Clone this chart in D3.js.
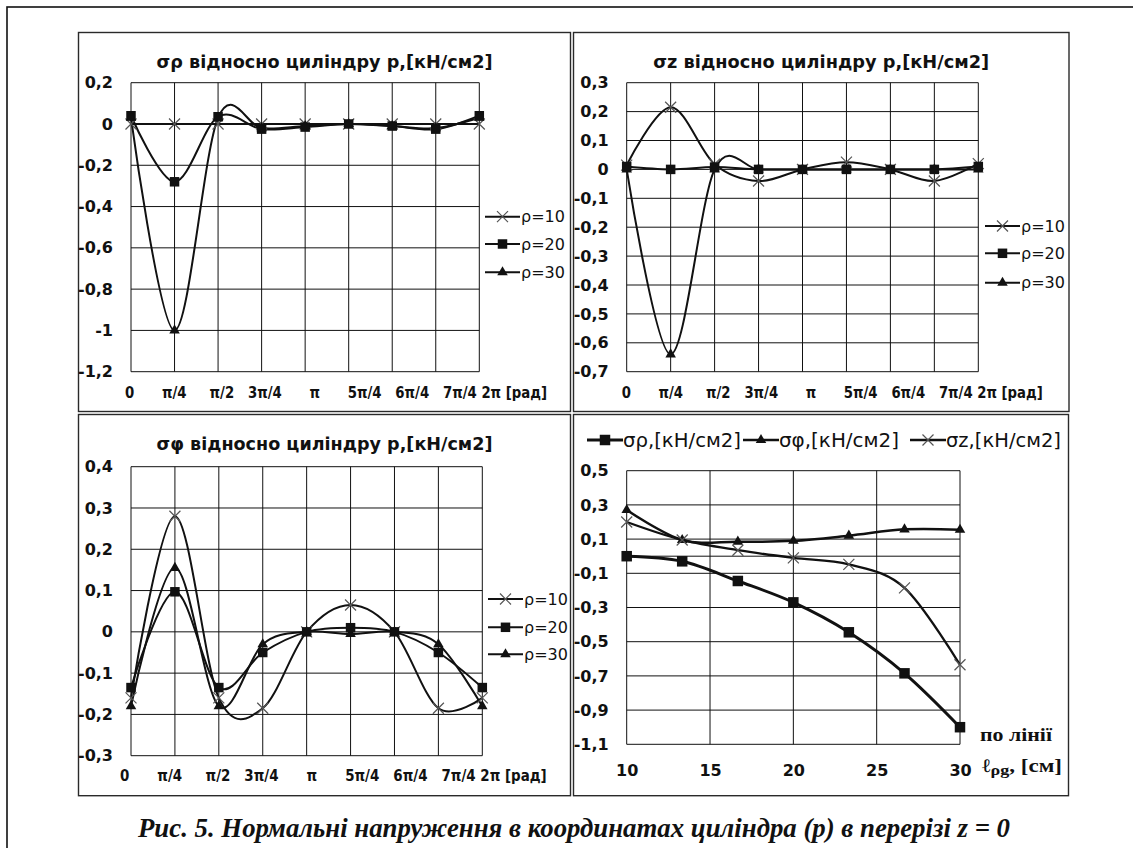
<!DOCTYPE html>
<html lang="uk">
<head>
<meta charset="UTF-8">
<title>Нормальні напруження в координатах циліндра</title>
<script src="https://d3js.org/d3.v7.min.js"></script>
<style>
  * { margin: 0; padding: 0; box-sizing: border-box; }
  body { background: #fff; width: 1133px; height: 848px; overflow: hidden; }
  svg { display: block; }
  .frame { fill: none; stroke: #111; stroke-width: 1.6; }
  .panel { fill: #fff; stroke: #2a2a2a; stroke-width: 1.4; }
  .grid { stroke: #111; stroke-width: 1; }
  .title { font-family: 'DejaVu Sans', sans-serif; font-weight: bold; font-size: 17.5px; fill: #111; }
  .axis text, .tick-row { font-family: 'DejaVu Sans', sans-serif; font-weight: bold; font-size: 16px; fill: #111; }
  .tick-row { white-space: pre; }
  .legend text { font-family: 'DejaVu Sans', sans-serif; font-size: 16px; fill: #111; }
  .legend4 text { font-family: 'DejaVu Sans', sans-serif; font-size: 19px; fill: #111; }
  .serif-note { font-family: 'Liberation Serif', 'DejaVu Serif', serif; font-weight: bold; font-size: 19px; fill: #111; }
  .caption { font-family: 'Liberation Serif', 'DejaVu Serif', serif; font-weight: bold; font-style: italic; font-size: 27px; fill: #111; }
  .series { fill: none; stroke: #111; }
  .mk-x { fill: none; stroke: #555; stroke-width: 1.2; }
  .mk-fill { fill: #111; stroke: none; }
</style>
</head>
<body>
<svg id="fig" width="1133" height="848"></svg>
<script>
// categories along the cylinder angle
const angleLabels = ["0", "π/4", "π/2", "3π/4", "π", "5π/4", "6π/4", "7π/4", "2π"];
const angleGaps = [6, 5, 3, 6, 6, 3, 3, 1];   // spaces typed between labels in the original
const radUnit = "[рад]";
const seriesNames = ["ρ=10", "ρ=20", "ρ=30"];

// σρ
const rhoTitle = "σρ відносно циліндру р,[кН/см2]";
const rhoTicks = [0.2, 0, -0.2, -0.4, -0.6, -0.8, -1, -1.2];
const rho10 = [0, 0, 0, 0, 0, 0, 0, 0, 0];
const rho20 = [0.04, -0.28, 0.035, -0.025, -0.015, 0, -0.01, -0.025, 0.04];
const rho30 = [0.03, -1.0, 0.03, -0.02, -0.01, 0, -0.01, -0.02, 0.03];

// σz
const zTitle = "σz відносно циліндру р,[кН/см2]";
const zTicks = [0.3, 0.2, 0.1, 0, -0.1, -0.2, -0.3, -0.4, -0.5, -0.6, -0.7];
const z10 = [0.015, 0.215, 0.018, -0.04, 0, 0.025, 0, -0.04, 0.02];
const z20 = [0.01, 0, 0.008, 0, 0, 0, 0, 0, 0.01];
const z30 = [0, -0.64, 0, 0, 0, 0, 0, 0, 0];

// σφ
const phiTitle = "σφ відносно циліндру р,[кН/см2]";
const phiTicks = [0.4, 0.3, 0.2, 0.1, 0, -0.1, -0.2, -0.3];
const phi10 = [-0.16, 0.28, -0.16, -0.185, 0, 0.065, 0, -0.185, -0.16];
const phi20 = [-0.135, 0.097, -0.135, -0.05, 0, 0.01, 0, -0.05, -0.135];
const phi30 = [-0.18, 0.155, -0.18, -0.03, 0, -0.005, 0, -0.03, -0.18];

// along line l_pg
const lineX = [10, 13.33, 16.67, 20, 23.33, 26.67, 30];
const lineXTicks = [10, 15, 20, 25, 30];
const lineYTicks = [0.5, 0.3, 0.1, -0.1, -0.3, -0.5, -0.7, -0.9, -1.1];
const lineNames = ["σρ,[кН/см2]", "σφ,[кН/см2]", "σz,[кН/см2]"];
const lineRho = [0.0, -0.03, -0.145, -0.27, -0.445, -0.685, -1.0];
const linePhi = [0.27, 0.095, 0.085, 0.09, 0.12, 0.157, 0.155];
const lineZ = [0.2, 0.095, 0.035, -0.01, -0.048, -0.185, -0.635];

const captionText = "Рис. 5. Нормальні напруження в координатах циліндра (р) в перерізі z = 0";

const fmt = v => String(+v.toFixed(2)).replace(".", ",");
const smooth = d3.curveCatmullRom.alpha(0);

const svg = d3.select("#fig");

svg.append("rect").attr("class", "frame")
    .attr("x", 7).attr("y", 7).attr("width", 1150).attr("height", 870);

function markerPath(kind, s) {
    if (kind === "x") {
        const r = s / 2;
        return `M${-r},${-r}L${r},${r}M${-r},${r}L${r},${-r}`;
    }
    if (kind === "square") return d3.symbol(d3.symbolSquare, s * s)();
    return d3.symbol(d3.symbolTriangle, s * s * 0.433)();
}

function drawMarkers(g, kind, pts, s) {
    g.append("g").selectAll("path").data(pts).join("path")
        .attr("class", kind === "x" ? "mk-x" : "mk-fill")
        .attr("transform", d => `translate(${d[0]},${d[1]})`)
        .attr("d", markerPath(kind, s));
}

const kinds = ["x", "square", "triangle"];
const sizes = { x: 11, square: 9.5, triangle: 10.5 };

function anglePanel(cfg) {
    const f = cfg.frame, p = cfg.plot;
    const g = svg.append("g");
    g.append("rect").attr("class", "panel")
        .attr("x", f[0]).attr("y", f[1]).attr("width", f[2] - f[0]).attr("height", f[3] - f[1]);

    g.append("text").attr("class", "title")
        .attr("x", (f[0] + f[2]) / 2).attr("y", f[1] + 35)
        .attr("text-anchor", "middle")
        .attr("textLength", 336).attr("lengthAdjust", "spacingAndGlyphs")
        .text(cfg.title);

    const x = d3.scalePoint().domain(angleLabels).range([p[0], p[2]]);
    const y = d3.scaleLinear().domain(cfg.yDomain).range([p[3], p[1]]);

    g.append("g").selectAll("line").data(cfg.yTicks).join("line").attr("class", "grid")
        .attr("x1", p[0]).attr("x2", p[2])
        .attr("y1", d => y(d)).attr("y2", d => y(d));
    g.append("g").selectAll("line").data(angleLabels).join("line").attr("class", "grid")
        .attr("x1", d => x(d)).attr("x2", d => x(d))
        .attr("y1", p[1]).attr("y2", p[3]);

    g.append("g").attr("class", "axis")
        .attr("transform", `translate(${p[0]},0)`)
        .call(d3.axisLeft(y).tickValues(cfg.yTicks).tickSize(0).tickPadding(18).tickFormat(fmt))
        .call(a => a.select(".domain").remove());

    const row = angleLabels.map((l, i) =>
        i < angleLabels.length - 1 ? l + " ".repeat(angleGaps[i]) : l + " " + radUnit).join("");
    g.append("text").attr("class", "tick-row")
        .attr("x", cfg.labelX).attr("y", cfg.labelY)
        .attr("textLength", cfg.labelW).attr("lengthAdjust", "spacingAndGlyphs")
        .text(row);

    const line = d3.line().x((d, i) => x(angleLabels[i])).y(d => y(d)).curve(smooth);
    cfg.series.forEach(vals => {
        g.append("path").attr("class", "series").attr("stroke-width", 2).attr("d", line(vals));
    });
    cfg.series.forEach((vals, k) => {
        drawMarkers(g, kinds[k], vals.map((v, i) => [x(angleLabels[i]), y(v)]), sizes[kinds[k]]);
    });

    const lg = g.append("g").attr("class", "legend");
    seriesNames.forEach((name, k) => {
        const ly = cfg.legendY[k];
        lg.append("line").attr("class", "series").attr("stroke-width", 2)
            .attr("x1", cfg.legendX).attr("x2", cfg.legendX + 35).attr("y1", ly).attr("y2", ly);
        drawMarkers(lg, kinds[k], [[cfg.legendX + 17.5, ly]], sizes[kinds[k]]);
        lg.append("text").attr("x", cfg.legendX + 36).attr("y", ly).attr("dy", "0.35em").text(name);
    });
}

anglePanel({
    frame: [78.5, 32.5, 570.5, 411.5], plot: [131, 82.7, 479.3, 371.7],
    title: rhoTitle, yDomain: [-1.2, 0.2], yTicks: rhoTicks,
    series: [rho10, rho20, rho30],
    labelX: 125, labelY: 397.5, labelW: 422,
    legendX: 485, legendY: [216.7, 244, 272.3]
});

anglePanel({
    frame: [573.5, 32.5, 1069, 411.5], plot: [626.7, 82.7, 978.3, 371.7],
    title: zTitle, yDomain: [-0.7, 0.3], yTicks: zTicks,
    series: [z10, z20, z30],
    labelX: 621.7, labelY: 398, labelW: 421,
    legendX: 985, legendY: [226, 253.3, 282.7]
});

anglePanel({
    frame: [78.5, 414.5, 570.5, 795.7], plot: [131, 466.7, 482.3, 755.7],
    title: phiTitle, yDomain: [-0.3, 0.4], yTicks: phiTicks,
    series: [phi10, phi20, phi30],
    labelX: 120, labelY: 780.5, labelW: 426.7,
    legendX: 488, legendY: [599, 627.3, 654.3]
});

// panel along the line
(function () {
    const f = [573.5, 414.5, 1068.5, 795.7], p = [626.7, 470.7, 960, 744.3];
    const g = svg.append("g");
    g.append("rect").attr("class", "panel")
        .attr("x", f[0]).attr("y", f[1]).attr("width", f[2] - f[0]).attr("height", f[3] - f[1]);

    const x = d3.scaleLinear().domain([10, 30]).range([p[0], p[2]]);
    const y = d3.scaleLinear().domain([-1.1, 0.5]).range([p[3], p[1]]);

    g.append("g").selectAll("line").data(lineYTicks.concat([0])).join("line").attr("class", "grid")
        .attr("x1", p[0]).attr("x2", p[2])
        .attr("y1", d => y(d)).attr("y2", d => y(d));
    g.append("g").selectAll("line").data(lineXTicks).join("line").attr("class", "grid")
        .attr("x1", d => x(d)).attr("x2", d => x(d))
        .attr("y1", p[1]).attr("y2", p[3]);

    g.append("g").attr("class", "axis")
        .attr("transform", `translate(${p[0]},0)`)
        .call(d3.axisLeft(y).tickValues(lineYTicks).tickSize(0).tickPadding(18).tickFormat(fmt))
        .call(a => a.select(".domain").remove());
    g.append("g").attr("class", "axis")
        .attr("transform", `translate(0,${p[3]})`)
        .call(d3.axisBottom(x).tickValues(lineXTicks).tickSize(0).tickPadding(20).tickFormat(d3.format("d")))
        .call(a => a.select(".domain").remove());

    const note = g.append("g");
    note.append("text").attr("class", "serif-note").attr("x", 980).attr("y", 741)
        .attr("textLength", 72).attr("lengthAdjust", "spacingAndGlyphs").text("по лінії");
    const t2 = note.append("text").attr("class", "serif-note").attr("x", 982).attr("y", 771.5)
        .attr("textLength", 80).attr("lengthAdjust", "spacingAndGlyphs");
    t2.append("tspan").text("ℓ");
    t2.append("tspan").attr("font-size", 15).attr("dy", 3).text("ρg");
    t2.append("tspan").attr("dy", -3).text(", [см]");

    const series = [lineRho, linePhi, lineZ];
    const widths = [3, 2.5, 2.3];
    const lkinds = ["square", "triangle", "x"];
    const lsizes = { square: 10.5, triangle: 10.5, x: 11 };
    const line = d3.line().x((d, i) => x(lineX[i])).y(d => y(d)).curve(smooth);
    series.forEach((vals, k) => {
        g.append("path").attr("class", "series").attr("stroke-width", widths[k]).attr("d", line(vals));
    });
    series.forEach((vals, k) => {
        drawMarkers(g, lkinds[k], vals.map((v, i) => [x(lineX[i]), y(v)]), lsizes[lkinds[k]]);
    });

    const starts = [587, 743, 910], textW = [118, 120, 115], ly = 440;
    const lg = g.append("g").attr("class", "legend4");
    lineNames.forEach((name, k) => {
        lg.append("line").attr("class", "series").attr("stroke-width", widths[k])
            .attr("x1", starts[k]).attr("x2", starts[k] + 36).attr("y1", ly).attr("y2", ly);
        drawMarkers(lg, lkinds[k], [[starts[k] + 18, ly]], lsizes[lkinds[k]]);
        lg.append("text").attr("x", starts[k] + 36).attr("y", ly).attr("dy", "0.36em")
            .attr("textLength", textW[k]).attr("lengthAdjust", "spacingAndGlyphs").text(name);
    });
})();

svg.append("text").attr("class", "caption")
    .attr("x", 138).attr("y", 837)
    .attr("textLength", 872).attr("lengthAdjust", "spacingAndGlyphs")
    .text(captionText);
</script>
</body>
</html>
